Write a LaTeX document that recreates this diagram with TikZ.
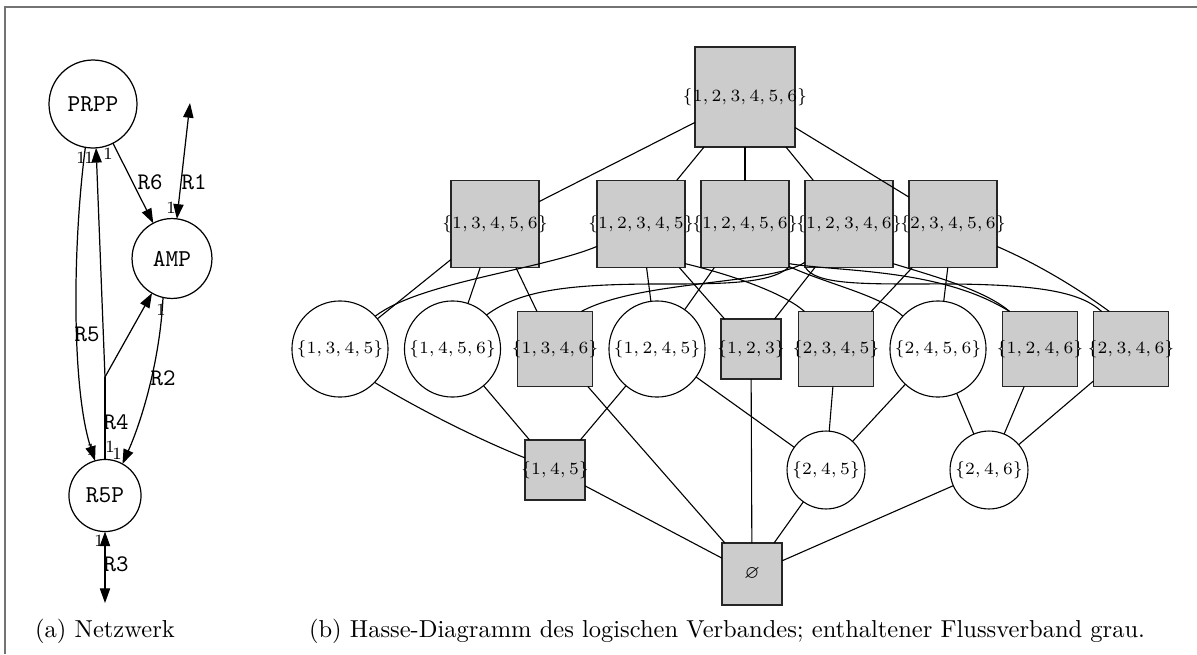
\documentclass[tikz,border=0pt]{standalone}
\usepackage{amssymb}
\usetikzlibrary{arrows.meta,shapes.geometric}
\begin{document}
\begin{tikzpicture}[x=0.408pt,y=-0.408pt,
  every node/.style={inner sep=0pt, outer sep=0pt},
  hbox/.style={draw=black!85, line width=0.45pt, fill=gray!40, font=\fontsize{7.3}{9}\selectfont},
  hcirc/.style={draw, circle, line width=0.45pt, fill=white, font=\fontsize{7.3}{9}\selectfont},
  ed/.style={line width=0.45pt},
  net/.style={draw, circle, line width=0.5pt, font=\fontsize{9.9}{11}\selectfont\ttfamily},
  arr/.style={line width=0.5pt, -{Triangle[length=6pt,width=4.2pt]}},
  arrb/.style={line width=0.5pt, {Triangle[length=6pt,width=4.2pt]}-{Triangle[length=6pt,width=4.2pt]}},
  rl/.style={font=\fontsize{9.7}{11}\selectfont\ttfamily},
  st/.style={font=\fontsize{7}{8}\selectfont},
  captext/.style={font=\fontsize{10}{12}\selectfont},
]
\useasboundingbox (0,0) rectangle (1197,654);
\draw[black!55, line width=0.8pt] (5,654) -- (5,7) -- (1197,7);

% ---------- Hasse diagram ----------
\node[hbox, minimum width=40.8pt, minimum height=40.8pt] (top) at (745,97) {\makebox[0pt]{$\{1,2,3,4,5,6\}$}};

\node[hbox, minimum width=35.9pt, minimum height=35.5pt] (s13456) at (495,224) {\makebox[0pt]{$\{1,3,4,5,6\}$}};
\node[hbox, minimum width=35.9pt, minimum height=35.5pt] (s12345) at (641,224) {\makebox[0pt]{$\{1,2,3,4,5\}$}};
\node[hbox, minimum width=35.9pt, minimum height=35.5pt] (s12456) at (745,224) {\makebox[0pt]{$\{1,2,4,5,6\}$}};
\node[hbox, minimum width=35.9pt, minimum height=35.5pt] (s12346) at (849,224) {\makebox[0pt]{$\{1,2,3,4,6\}$}};
\node[hbox, minimum width=35.9pt, minimum height=35.5pt] (s23456) at (953,224) {\makebox[0pt]{$\{2,3,4,5,6\}$}};

\node[hcirc, minimum size=39.2pt] (c1345) at (340,349) {\makebox[0pt]{$\{1,3,4,5\}$}};
\node[hcirc, minimum size=39.2pt] (c1456) at (452.5,349) {\makebox[0pt]{$\{1,4,5,6\}$}};
\node[hbox, minimum size=30.6pt] (s1346) at (555,349) {\makebox[0pt]{$\{1,3,4,6\}$}};
\node[hcirc, minimum size=39.2pt] (c1245) at (657,349) {\makebox[0pt]{$\{1,2,4,5\}$}};
\node[hbox, minimum size=24.5pt] (s123) at (751,349) {\makebox[0pt]{$\{1,2,3\}$}};
\node[hbox, minimum size=30.6pt] (s2345) at (836,349) {\makebox[0pt]{$\{2,3,4,5\}$}};
\node[hcirc, minimum size=39.2pt] (c2456) at (938,349) {\makebox[0pt]{$\{2,4,5,6\}$}};
\node[hbox, minimum size=30.6pt] (s1246) at (1040,349) {\makebox[0pt]{$\{1,2,4,6\}$}};
\node[hbox, minimum size=30.6pt] (s2346) at (1131,349) {\makebox[0pt]{$\{2,3,4,6\}$}};

\node[hbox, minimum size=24.5pt] (s145) at (555,470) {\makebox[0pt]{$\{1,4,5\}$}};
\node[hcirc, minimum size=31.8pt] (c245) at (826,470) {\makebox[0pt]{$\{2,4,5\}$}};
\node[hcirc, minimum size=31.8pt] (c246) at (989,470) {\makebox[0pt]{$\{2,4,6\}$}};

\node[hbox, minimum width=24.5pt, minimum height=25.3pt] (empty) at (752,574) {$\varnothing$};

% straight edges
\foreach \a/\b in {top/s13456, top/s12345, top/s12456, top/s12346, top/s23456,
  s13456/c1345, s13456/c1456, s13456/s1346, s12345/c1245, s12345/s123,
  s12456/c1245, s12346/s123, s23456/s2345, s23456/c2456,
  c1456/s145, c1245/s145, c1245/c245, s2345/c245, c2456/c245, c2456/c246,
  s1246/c246, s2346/c246, s145/empty, s1346/empty, s123/empty, c245/empty, c246/empty}
  \draw[ed] (\a) -- (\b);

% curved edges
\draw[ed] (s12345.207) .. controls (540,270) and (420,282) .. (c1345.43);
\draw[ed] (s12345.-42) .. controls (720,272) and (780,290) .. (s2345.130);
\draw[ed] (s12456.-45) .. controls (770,284) and (720,284) .. (660,284) .. controls (570,284) and (520,290) .. (c1456.45);
\draw[ed] (s12456.-44) .. controls (830,285) and (880,295) .. (c2456.137);
\draw[ed] (s12456.-42) .. controls (840,272) and (940,268) .. (s1246.129);
\draw[ed] (s12346.221) .. controls (770,285) and (640,280) .. (s1346.55);
\draw[ed] (s12346.-42) .. controls (930,275) and (985,290) .. (s1246.129);
\draw[ed] (s12346.-135) .. controls (815,284) and (860,284) .. (920,284) .. controls (1040,283) and (1080,292) .. (s2346.128);
\draw[ed] (s23456.-27) .. controls (1040,265) and (1080,290) .. (s2346.120);
\draw[ed] (c1345.-44) .. controls (420,410) and (480,440) .. (s145.158);

% ---------- Network ----------
\node[net, minimum size=35.9pt] (PRPP) at (93,104) {PRPP};
\node[net, minimum size=32.6pt] (AMP) at (172,258.5) {AMP};
\node[net, minimum size=29.4pt] (R5P) at (105,495.5) {R5P};
\coordinate (r1e) at (190,103);
\coordinate (j4) at (105,377);
\coordinate (r3e) at (105,603);

\draw[arrb] (r1e) -- (AMP.83);
\draw[arr] (PRPP.-63) -- (AMP.118);
\draw[arr] (PRPP.-100) .. controls (72,250) and (72,390) .. (R5P.106);
\draw[line width=0.5pt] (R5P.90) -- (j4);
\draw[arr] (j4) -- (PRPP.-86);
\draw[arr] (j4) -- (AMP.-120);
\draw[arr] (AMP.-103) .. controls (160,360) and (142,420) .. (R5P.61);
\draw[arrb] (R5P.-90) -- (r3e);

\node[rl] (lR1) at (194,182) {R1};
\node[rl] (lR6) at (150,182) {R6};
\node[rl] (lR5) at (87,334) {R5};
\node[rl] (lR4) at (116,422) {R4};
\node[rl] (lR2) at (163,378) {R2};
\node[rl] (lR3) at (116,564) {R3};

\node[st] (n1) at (81,158) {1};
\node[st] (n2) at (89,158) {1};
\node[st] (n3) at (108,154) {1};
\node[st] (n4) at (171,208) {1};
\node[st] (n5) at (161,310) {1};
\node[st] (n6) at (91,450) {1};
\node[st] (n7) at (110,447) {1};
\node[st] (n8) at (117,454) {1};
\node[st] (n9) at (99,541) {1};

% captions
\node[captext] (capa) at (105,631) {(a) Netzwerk};
\node[captext] (capb) at (727,631) {(b) Hasse-Diagramm des logischen Verbandes; enthaltener Flussverband grau.};
\end{tikzpicture}
\end{document}
